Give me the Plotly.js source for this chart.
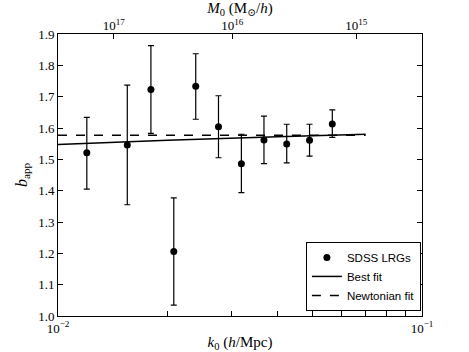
<!DOCTYPE html>
<html>
<head>
<meta charset="utf-8">
<script src="https://cdn.plot.ly/plotly-3.0.1.min.js"></script>
<style>
  html, body { margin: 0; padding: 0; background: #fff; }
  #plot { width: 469px; height: 352px; }
</style>
</head>
<body>
<div id="plot"></div>
<script>
// SDSS LRG measurements
const k0 = [0.0120, 0.0155, 0.0180, 0.0208, 0.0239, 0.0276, 0.0319, 0.0368, 0.0425, 0.0491, 0.0567];
const bApp = [1.521, 1.546, 1.723, 1.206, 1.733, 1.604, 1.486, 1.562, 1.549, 1.561, 1.613];
const errUp = [0.113, 0.191, 0.140, 0.171, 0.104, 0.099, 0.094, 0.076, 0.063, 0.051, 0.045];
const errDown = [0.116, 0.191, 0.140, 0.171, 0.105, 0.099, 0.092, 0.076, 0.060, 0.051, 0.043];

// fits
const bestK = [0.01, 0.02, 0.04, 0.07];
const bestB = [1.547, 1.561, 1.572, 1.580];
const newtK = [0.01, 0.07];
const newtB = [1.577, 1.577];

// axis ticks
const kTicks = [0.01, 0.02, 0.03, 0.04, 0.05, 0.06, 0.07, 0.08, 0.09, 0.1];
const kLabels = ["10<sup>\u22122</sup>", "", "", "", "", "", "", "", "", "10<sup>\u22121</sup>"];
// mass ticks on the top axis, and the k0 at which each one sits
const mLabels = ["10<sup>17</sup>", "10<sup>16</sup>", "10<sup>15</sup>"];
const mTickK = [0.01423, 0.03012, 0.06597];
const bTicks = [1.0, 1.1, 1.2, 1.3, 1.4, 1.5, 1.6, 1.7, 1.8, 1.9];

const serif = "Liberation Serif, DejaVu Serif, serif";

const traces = [
  {
    x: k0, y: bApp, name: "SDSS LRGs",
    type: "scatter", mode: "markers",
    marker: { color: "black", size: 7 },
    error_y: { type: "data", symmetric: false, array: errUp, arrayminus: errDown,
               color: "black", thickness: 1.2, width: 3 }
  },
  {
    x: bestK, y: bestB, name: "Best fit",
    type: "scatter", mode: "lines",
    line: { color: "black", width: 1.5 }
  },
  {
    x: newtK, y: newtB, name: "Newtonian fit",
    type: "scatter", mode: "lines",
    line: { color: "black", width: 1.5, dash: "dash" }
  },
  // empty trace so the top mass axis is drawn
  {
    x: mTickK, y: mTickK.map(() => null), xaxis: "x2",
    type: "scatter", mode: "none", showlegend: false, hoverinfo: "skip"
  }
];

const layout = {
  width: 469, height: 352,
  margin: { l: 58, r: 47, t: 34, b: 36 },
  paper_bgcolor: "white", plot_bgcolor: "white",
  showlegend: true,
  font: { family: serif, size: 13, color: "black" },
  xaxis: {
    type: "log", range: [-2, -1],
    tickvals: kTicks, ticktext: kLabels,
    ticks: "inside", ticklen: 5, tickcolor: "black",
    showline: true, linecolor: "black", linewidth: 1, mirror: true,
    showgrid: false, zeroline: false,
    title: { text: "<i>k</i><sub>0</sub> (<i>h</i>/Mpc)", font: { size: 15 }, standoff: 2 }
  },
  xaxis2: {
    type: "log", range: [-2, -1],
    overlaying: "x", side: "top", anchor: "y",
    tickvals: mTickK, ticktext: mLabels,
    ticks: "inside", ticklen: 5, tickcolor: "black",
    showgrid: false, zeroline: false, showline: false,
    title: { text: "<i>M</i><sub>0</sub> (M<sub>\u2299</sub>/<i>h</i>)", font: { size: 15 }, standoff: 4 }
  },
  yaxis: {
    range: [1.0, 1.9],
    tickvals: bTicks, tickformat: ".1f",
    ticks: "inside", ticklen: 5, tickcolor: "black",
    showline: true, linecolor: "black", linewidth: 1, mirror: "ticks",
    showgrid: false, zeroline: false,
    title: { text: "<i>b</i><sub>app</sub>", font: { size: 16 }, standoff: 6 }
  },
  legend: {
    x: 0.997, y: 0.018, xanchor: "right", yanchor: "bottom",
    bordercolor: "black", borderwidth: 1, bgcolor: "white",
    font: { family: "Liberation Sans, Arial, sans-serif", size: 11.5 },
    tracegroupgap: 0
  }
};

Plotly.newPlot("plot", traces, layout, { displayModeBar: false, staticPlot: true });
</script>
</body>
</html>
